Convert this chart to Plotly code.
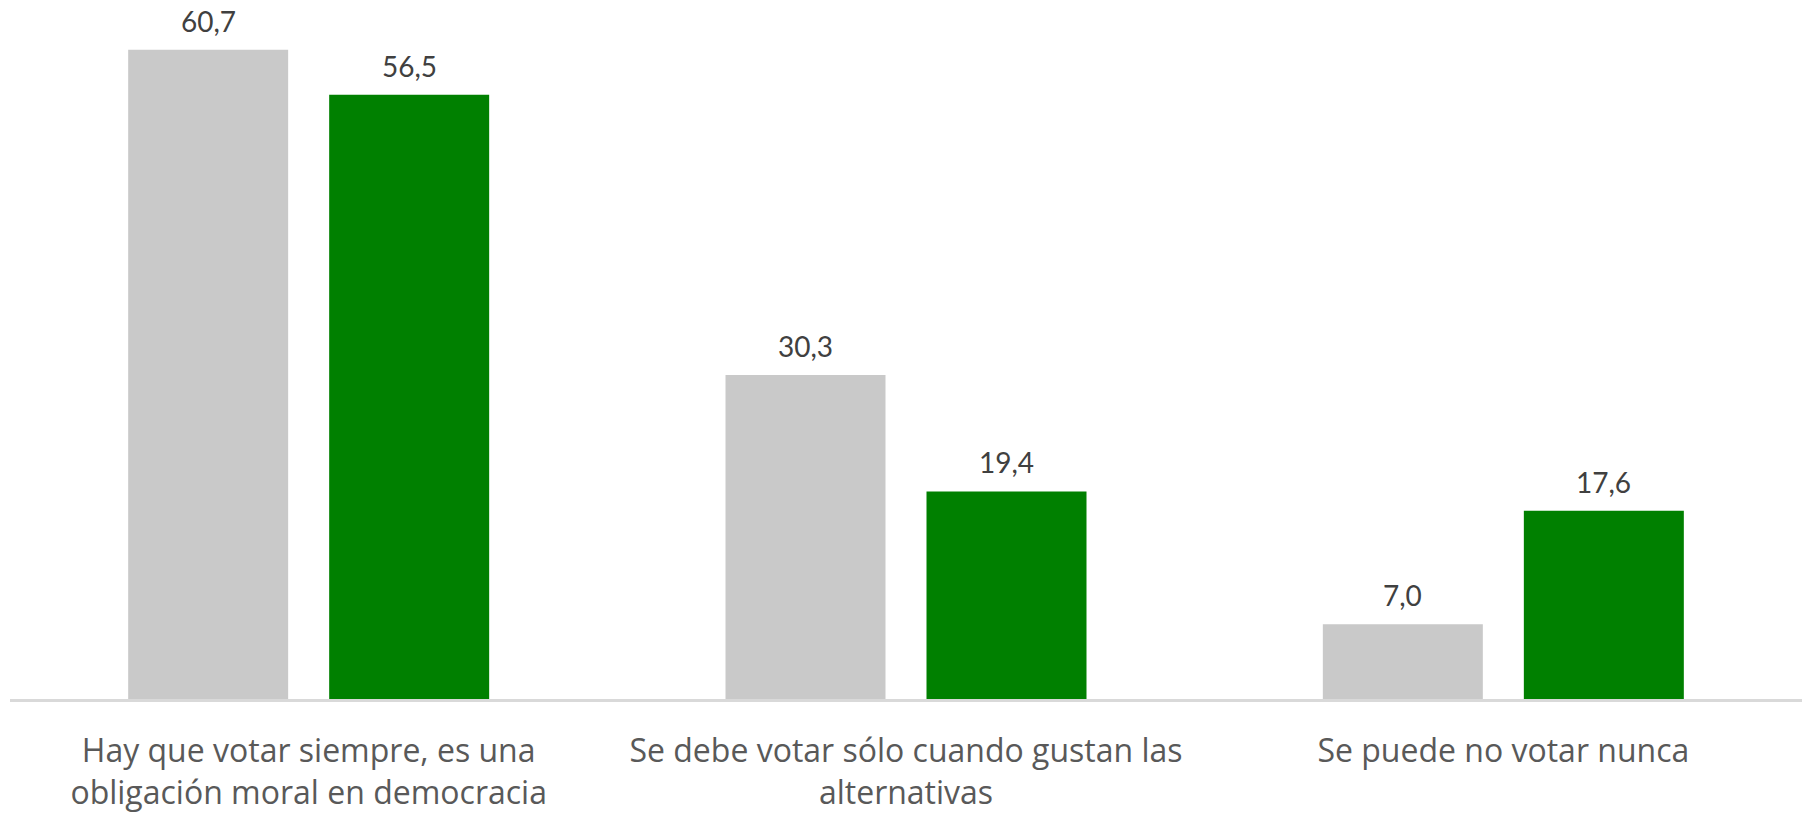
import plotly.graph_objects as go

categories = [
    "Hay que votar siempre, es una<br>obligación moral en democracia",
    "Se debe votar sólo cuando gustan las<br>alternativas",
    "Se puede no votar nunca",
]
serie_gris = [60.7, 30.3, 7.0]
serie_verde = [56.5, 19.4, 17.6]

LABEL_FONT = "Lato"
CAT_FONT = "Open Sans"

fig = go.Figure()
fig.add_trace(go.Bar(
    x=categories, y=serie_gris, name="Serie 1",
    marker=dict(color="#C9C9C9", line=dict(width=0)),
))
fig.add_trace(go.Bar(
    x=categories, y=serie_verde, name="Serie 2",
    marker=dict(color="#008000", line=dict(width=0)),
))

# value labels above each bar
for values, shift in ((serie_gris, -100.5), (serie_verde, 100.5)):
    for cat, v in zip(categories, values):
        fig.add_annotation(
            x=cat, y=v, xref="x", yref="y",
            text=f"{v:.1f}".replace(".", ","),
            showarrow=False, xanchor="center", yanchor="bottom",
            xshift=shift, yshift=11, borderpad=0,
            font=dict(family=LABEL_FONT, size=28, color="#404040"),
        )

fig.update_layout(
    width=1804, height=815,
    margin=dict(l=10, r=2, t=20, b=110),
    paper_bgcolor="white", plot_bgcolor="white",
    barmode="group", bargap=0.327, bargroupgap=0.204,
    separators=",.",
    showlegend=False,
    font=dict(family=CAT_FONT),
)
fig.update_xaxes(
    showline=True, linecolor="#D9D9D9", linewidth=3,
    ticks="", showgrid=False,
    tickfont=dict(family=CAT_FONT, size=32, color="#595959"),
    ticklabelstandoff=22,
)
fig.update_yaxes(
    range=[0, 63.48], visible=False, showgrid=False, zeroline=False,
)

fig.write_html(
    "out.html",
    config={"displayModeBar": False},
    post_script="document.body.style.margin='0';",
)
